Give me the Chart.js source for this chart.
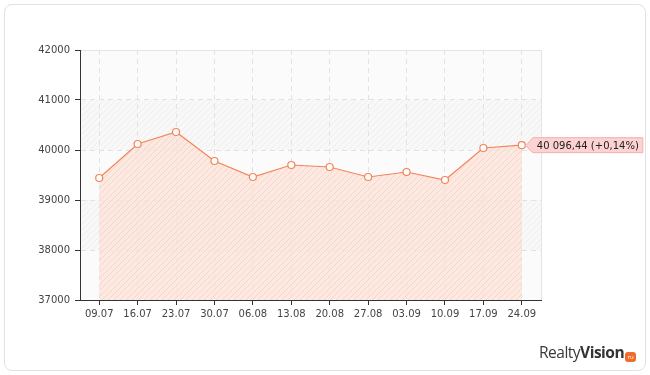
<!DOCTYPE html>
<html>
<head>
<meta charset="utf-8">
<script src="https://cdn.jsdelivr.net/npm/chart.js@4"></script>
<style>
  html, body { margin: 0; padding: 0; background: #fff; }
  #wrap { position: relative; width: 650px; height: 375px; }
  #frame { position: absolute; left: 4px; top: 4px; width: 640px; height: 365px;
           border: 1px solid #e2e2e2; border-radius: 8px; }
  #logo { position: absolute; left: 539px; top: 341px; font-family: "Open Sans", sans-serif;
          font-size: 15.5px; color: #3a3a3a; letter-spacing: -0.5px; }
  #logo b { font-weight: 700; color: #333; }
  #logo span { display: inline-block; width: 11px; height: 10px; background: #f26b2a; border-radius: 3px;
               color: #fff; font-size: 6px; line-height: 10px; text-align: center; vertical-align: -1px; margin-left: 1px; letter-spacing: 0; }
  canvas { position: absolute; left: 0; top: 0; }
</style>
</head>
<body>
<div id="wrap">
  <div id="frame"></div>
  <canvas id="chart" width="650" height="375"></canvas>
  <div id="logo">Realty<b>Vision</b><span>ru</span></div>
</div>
<script>
const labels = ['09.07', '16.07', '23.07', '30.07', '06.08', '13.08', '20.08', '27.08', '03.09', '10.09', '17.09', '24.09'];
const values = [39440, 40120, 40360, 39780, 39460, 39700, 39660, 39460, 39560, 39400, 40040, 40096.44];
const yMin = 37000;
const yMax = 42000;
const yStep = 1000;

function hatch(base, line) {
    const c = document.createElement('canvas');
    c.width = 6; c.height = 6;
    const g = c.getContext('2d');
    g.fillStyle = base;
    g.fillRect(0, 0, 6, 6);
    g.strokeStyle = line;
    g.lineWidth = 1;
    g.beginPath();
    g.moveTo(-1, 7); g.lineTo(7, -1);
    g.moveTo(-1, 1); g.lineTo(1, -1);
    g.moveTo(5, 7); g.lineTo(7, 5);
    g.stroke();
    return g.createPattern(c, 'repeat');
}

const ctx = document.getElementById('chart').getContext('2d');
const bgHatch = hatch('#f8f8f8', '#eeeeee');
const fillHatch = hatch('rgba(252,228,218,0.75)', 'rgba(245,206,192,0.75)');

function fmt(v) {
    const parts = v.toFixed(2).split('.');
    return parts[0].replace(/\B(?=(\d{3})+(?!\d))/g, ' ') + ',' + parts[1];
}

// plot background with alternating bands
const plotBg = {
    id: 'plotBg',
    beforeDraw(chart) {
        const { ctx, chartArea: a, scales: { y } } = chart;
        ctx.save();
        ctx.fillStyle = '#fbfbfb';
        ctx.fillRect(a.left, a.top, a.right - a.left, a.bottom - a.top);
        for (let v = yMin; v < yMax; v += yStep) {
            const idx = (v - yMin) / yStep;
            if (idx % 2 === 1) {
                const t = y.getPixelForValue(v + yStep);
                const b = y.getPixelForValue(v);
                ctx.fillStyle = bgHatch;
                ctx.fillRect(a.left, t, a.right - a.left, b - t);
            }
        }
        ctx.strokeStyle = '#e4e4e4';
        ctx.lineWidth = 1;
        ctx.beginPath();
        ctx.moveTo(a.left, a.top + 0.5);
        ctx.lineTo(a.right + 0.5, a.top + 0.5);
        ctx.lineTo(a.right + 0.5, a.bottom);
        ctx.stroke();
        ctx.restore();
    }
};

// label at last point
const lastLabel = {
    id: 'lastLabel',
    afterDatasetsDraw(chart) {
        const { ctx, scales: { x, y } } = chart;
        const n = values.length - 1;
        const px = x.getPixelForValue(n);
        const py = y.getPixelForValue(values[n]);
        const pct = (values[n] - values[n - 1]) / values[n - 1] * 100;
        const text = fmt(values[n]) + ' (' + (pct >= 0 ? '+' : '') + pct.toFixed(2).replace('.', ',') + '%)';
        ctx.save();
        ctx.font = '10px "DejaVu Sans"';
        const w = ctx.measureText(text).width + 8;
        const h = 15;
        const left = px + 11;
        ctx.fillStyle = '#fdd2d2';
        ctx.strokeStyle = '#f2b0b0';
        ctx.lineWidth = 1;
        ctx.beginPath();
        ctx.moveTo(px + 4, py + 0.5);
        ctx.lineTo(left, py - h / 2);
        ctx.lineTo(left + w, py - h / 2);
        ctx.lineTo(left + w, py + h / 2);
        ctx.lineTo(left, py + h / 2);
        ctx.closePath();
        ctx.fill();
        ctx.stroke();
        ctx.fillStyle = '#222';
        ctx.textBaseline = 'middle';
        ctx.fillText(text, left + 4, py + 1);
        ctx.restore();
    }
};

new Chart(ctx, {
    type: 'line',
    data: {
        labels: labels,
        datasets: [{
            data: values,
            borderColor: '#f5845a',
            borderWidth: 1.2,
            backgroundColor: fillHatch,
            fill: 'start',
            tension: 0,
            pointRadius: 3.5,
            pointBorderWidth: 1.2,
            pointBackgroundColor: '#fff',
            pointBorderColor: '#f5845a'
        }]
    },
    options: {
        responsive: false,
        animation: false,
        layout: { padding: { left: 0, top: 50, right: 109, bottom: 0 } },
        plugins: { legend: { display: false }, tooltip: { enabled: false } },
        scales: {
            x: {
                offset: true,
                afterFit: s => { s.height = 75; },
                grid: { color: '#e2e2e2', tickColor: '#333', tickLength: 5 },
                border: { color: '#333', width: 1, dash: [5, 4] },
                ticks: { color: '#444', font: { family: 'DejaVu Sans', size: 10 }, padding: 3, maxRotation: 0, autoSkip: false }
            },
            y: {
                min: yMin,
                max: yMax,
                afterFit: s => { s.width = 80; },
                grid: {
                    color: c => (c.tick && c.tick.value === yMax) ? 'rgba(0,0,0,0)' : '#e2e2e2',
                    tickColor: '#333',
                    tickLength: 5
                },
                border: { color: '#333', width: 1, dash: [5, 4] },
                ticks: { stepSize: yStep, color: '#444', font: { family: 'DejaVu Sans', size: 10 }, padding: 5,
                         callback: v => String(v) }
            }
        }
    },
    plugins: [plotBg, lastLabel]
});
</script>
</body>
</html>
